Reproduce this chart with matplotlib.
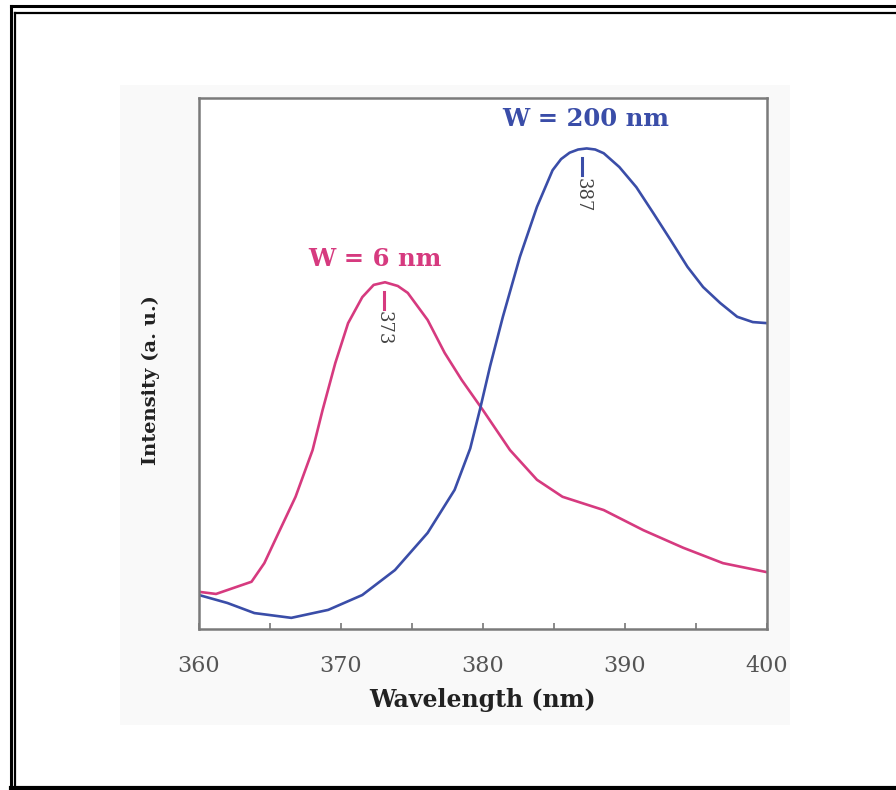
import matplotlib.pyplot as plt
from matplotlib.lines import Line2D
from matplotlib.patches import Rectangle

# spectra (wavelength in nm, intensity in a.u.)
wl_6nm = [360.0, 361.2, 363.7, 364.6, 365.6, 366.8, 368.0, 368.7, 369.6, 370.5,
          371.5, 372.3, 373.1, 374.0, 374.7, 376.1, 377.3, 378.5, 380.0, 381.9,
          383.8, 385.6, 388.5, 391.3, 394.1, 396.9, 400.0]
int_6nm = [0.070, 0.066, 0.089, 0.124, 0.181, 0.249, 0.337, 0.412, 0.501, 0.576,
           0.625, 0.648, 0.653, 0.646, 0.633, 0.582, 0.520, 0.469, 0.412, 0.337,
           0.281, 0.249, 0.224, 0.186, 0.153, 0.124, 0.107]

wl_200nm = [360.0, 362.0, 363.9, 366.5, 369.1, 371.5, 373.8, 376.1, 378.0, 379.1,
            379.8, 380.5, 381.4, 382.6, 383.8, 384.9, 385.5, 386.1, 386.7, 387.3,
            387.9, 388.5, 389.6, 390.8, 392.0, 393.2, 394.4, 395.5, 396.7, 397.9,
            399.0, 400.0]
int_200nm = [0.064, 0.049, 0.030, 0.021, 0.036, 0.064, 0.111, 0.181, 0.262, 0.340,
             0.415, 0.495, 0.588, 0.701, 0.795, 0.864, 0.885, 0.897, 0.903, 0.905,
             0.903, 0.896, 0.870, 0.832, 0.783, 0.733, 0.682, 0.644, 0.614, 0.588,
             0.578, 0.576]

peaks = [373, 387]
peak_vals = [0.653, 0.905]
labels = ['W = 6 nm', 'W = 200 nm']
label_pos = [(372.4, 0.697), (387.25, 0.960)]
colors = ['#d63a7f', '#3a4da8']

serif = ['DejaVu Serif']

fig = plt.figure(figsize=(8.96, 7.90), dpi=100)

# faint grey panel behind the plot
fig.patches.append(Rectangle((120 / 896, 1 - 725 / 790), 670 / 896, 640 / 790,
                             transform=fig.transFigure, facecolor='#f9f9f9',
                             edgecolor='none', zorder=-5))

# double frame around the picture
def fline(x0, y0, x1, y1, lw):
    fig.lines.append(Line2D([x0 / 896, x1 / 896], [1 - y0 / 790, 1 - y1 / 790],
                            transform=fig.transFigure, color='black', lw=lw))

fline(11, 6, 896, 6, 2.2)
fline(11, 6, 11, 788, 2.2)
fline(15, 13, 896, 13, 1.6)
fline(15, 13, 15, 788, 1.6)
fline(11, 788, 896, 788, 3.0)

ax = fig.add_axes([199 / 896, 1 - 629 / 790, 568 / 896, 531 / 790])
ax.set_zorder(2)
ax.plot(wl_6nm, int_6nm, color=colors[0], lw=1.9)
ax.plot(wl_200nm, int_200nm, color=colors[1], lw=1.9)

ax.set_xlim(360, 400)
ax.set_ylim(0, 1)
ax.set_xticks([360, 370, 380, 390, 400])
ax.set_xticks([365, 375, 385, 395], minor=True)
ax.set_yticks([])
ax.tick_params(axis='x', which='both', direction='in', length=4, width=1.2,
               color='#777777', pad=19, labelsize=16, labelcolor='#555555')
for lab in ax.get_xticklabels():
    lab.set_family(serif)
for s in ax.spines.values():
    s.set_color('#7a7a7a')
    s.set_linewidth(1.8)

ax.set_xlabel('Wavelength (nm)', fontsize=17, fontweight='bold', family=serif,
              color='#222222', labelpad=8)
ax.set_ylabel('Intensity (a. u.)', fontsize=14, fontweight='bold', family=serif,
              color='#222222')
ax.yaxis.set_label_coords(-0.068, 0.469)

# peak markers and labels
for p, v, c in zip(peaks, peak_vals, colors):
    ax.plot([p, p], [v - 0.018, v - 0.05], color=c, lw=2.2)
    ax.text(p, v - 0.055, str(p), rotation=-90, ha='center', va='top',
            fontsize=13, color='#444444', family=serif)

for lab, (lx, ly), c in zip(labels, label_pos, colors):
    ax.text(lx, ly, lab, color=c, fontsize=17.5, fontweight='bold',
            family=serif, ha='center', va='center')

fig.savefig('out.png', dpi=100)
